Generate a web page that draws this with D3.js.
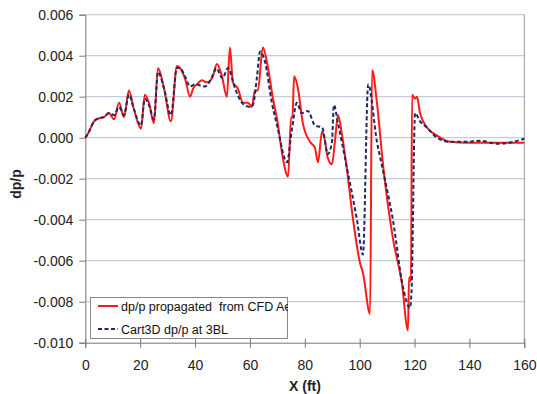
<!DOCTYPE html>
<html><head><meta charset="utf-8">
<script src="https://cdn.jsdelivr.net/npm/d3@7"></script>
<style>body{margin:0;background:#fff;}svg{display:block;font-family:"Liberation Sans",Arial,sans-serif;}</style>
</head><body><svg id="c" width="537" height="394"></svg>
<script>
const xTicks = [0,20,40,60,80,100,120,140,160];
const yTicks = [0.006,0.004,0.002,0.000,-0.002,-0.004,-0.006,-0.008,-0.010];
const seriesNames = ["dp/p propagated  from CFD Ae", "Cart3D dp/p at 3BL"];
const redX = [0,1.0,3.2,5.0,6.8,8.6,10.5,12.3,14.1,15.9,17.7,20.3,21.7,23.2,25.0,26.5,28.7,31.2,33.4,34.5,36.3,38.2,39.3,40.7,42.5,44.3,46.2,48.0,49.8,51.6,52.7,53.8,55.6,57.5,59.3,60.7,61.8,62.9,64.7,66.6,68.4,69.9,72.0,73.9,75.0,75.5,76.1,77.5,79.3,81.9,83.7,84.8,86.3,87.4,88.4,89.9,91.0,92.1,93.5,95.4,97.6,100.1,101.2,103.8,104.5,106.3,108.5,112.1,115.4,117.6,118.0,118.7,119.1,120.2,120.9,122.0,124.5,128.2,132.9,139.1,151.1,160];
const redY = [0,0.0002,0.0008,0.00095,0.001,0.0012,0.0009,0.0017,0.001,0.0023,0.0014,0.00044,0.0021,0.0017,0.0007,0.0034,0.0024,0.0008,0.0035,0.0034,0.0029,0.002,0.0024,0.0026,0.0028,0.0027,0.0029,0.0036,0.003,0.002,0.0044,0.0027,0.0024,0.0017,0.0017,0.0015,0.0023,0.0023,0.0044,0.0034,0.0019,0.0009,-0.001,-0.0019,0.001,0.001,0.003,0.0024,0.0007,-0.0002,-0.0005,-0.0012,0.0003,-0.0002,-0.001,-0.0013,-0.00015,0.0011,0.0002,-0.0016,-0.004,-0.0061,-0.0066,-0.0086,0.0033,0.0017,-0.0013,-0.0049,-0.0071,-0.0094,-0.0068,-0.007,0.0021,0.0019,0.002,0.0012,0.0005,0.0001,-0.0002,-0.00025,-0.00025,-0.00025];
const blueX = [0,1.0,3.2,5.0,6.8,8.6,10.5,12.3,14.1,15.9,17.7,20.3,21.7,23.2,25.0,26.5,28.7,31.2,33.4,34.5,36.3,38.2,40.0,43.6,47.0,47.7,50.0,52.0,54.6,57.1,60.0,61.1,62.6,63.7,65.5,68.0,69.9,73.5,75.3,77.1,78.9,81.1,83.7,86.3,88.4,89.9,90.6,92.1,95.4,99.0,101.2,103.1,106.3,108.5,112.1,115.8,118.3,118.9,120.2,122.0,124.5,128.2,132.9,139.1,144.0,150.2,156.0,160];
const blueY = [0,0.0002,0.0008,0.00095,0.001,0.0012,0.0011,0.0015,0.0011,0.0021,0.0014,0.0006,0.0019,0.0016,0.0009,0.0032,0.0024,0.0011,0.0034,0.0034,0.003,0.0025,0.0026,0.0025,0.0032,0.0034,0.0029,0.0034,0.0024,0.0017,0.0015,0.0016,0.003,0.0042,0.0037,0.0017,0.0006,-0.0012,0.0004,0.0017,0.0012,0.0013,0.0006,0.0005,-0.0008,-0.0002,0.0016,0.0007,-0.0015,-0.004,-0.0057,0.0026,-0.0002,-0.0016,-0.004,-0.0073,-0.0083,-0.0075,0.0012,0.0008,0.0005,0,-0.0002,-0.0002,-0.00015,-0.0003,-0.0002,-0.00005];

const svg = d3.select("#c");
const x = d3.scaleLinear().domain([0,160]).range([85.3,524.3]);
const y = d3.scaleLinear().domain([-0.010,0.006]).range([342.7,14.7]);

// gridlines
svg.append("g").selectAll("line").data(yTicks.filter(v=>v>-0.0099)).join("line")
  .attr("x1",x(0)).attr("x2",x(160)).attr("y1",d=>y(d)).attr("y2",d=>y(d))
  .attr("stroke","#b4c3d6").attr("stroke-width",1);
// right border
svg.append("line").attr("x1",x(160)).attr("x2",x(160)).attr("y1",y(0.006)).attr("y2",y(-0.010))
  .attr("stroke","#9a9a9a").attr("stroke-width",1);

const yAxis = d3.axisLeft(y).tickValues(yTicks).tickFormat(d3.format(".3f")).tickSize(6).tickPadding(6);
const gy = svg.append("g").attr("transform",`translate(${x(0)},0)`).call(yAxis);
gy.selectAll("text").attr("font-size",14).attr("fill","#222").text(d=>d3.format(".3f")(d).replace("−","-"));
gy.select(".domain").attr("stroke","#777");
gy.selectAll(".tick line").attr("stroke","#777");

const xAxis = d3.axisBottom(x).tickValues(xTicks).tickSize(5).tickPadding(12);
const gx = svg.append("g").attr("transform",`translate(0,${y(-0.010)})`).call(xAxis);
gx.selectAll("text").attr("font-size",14).attr("fill","#222");
gx.select(".domain").attr("stroke","#777");
gx.selectAll(".tick line").attr("stroke","#777").attr("y1",-4);

svg.append("text").attr("x",305).attr("y",391).attr("text-anchor","middle")
  .attr("font-size",14).attr("font-weight","bold").attr("fill","#222").text("X (ft)");
svg.append("text").attr("transform","translate(21,184) rotate(-90)").attr("text-anchor","middle")
  .attr("font-size",14).attr("font-weight","bold").attr("fill","#222").text("dp/p");

const line = d3.line().x(d=>x(d[0])).y(d=>y(d[1])).curve(d3.curveMonotoneX);
const red = redX.map((v,i)=>[v,redY[i]]);
const blue = blueX.map((v,i)=>[v,blueY[i]]);
svg.append("path").datum(red).attr("d",line).attr("fill","none").attr("stroke","#ff1a1a").attr("stroke-width",2);
svg.append("path").datum(blue).attr("d",line).attr("fill","none").attr("stroke","#1c2a5e").attr("stroke-width",2).attr("stroke-dasharray","4,2.5");

// legend
const lg = svg.append("g");
svg.append("clipPath").attr("id","lgclip").append("rect").attr("x",90).attr("y",297).attr("width",198).attr("height",42);
lg.append("rect").attr("x",90.5).attr("y",297.5).attr("width",197).attr("height",41)
  .attr("fill","#fff").attr("stroke","#888");
const lgi = lg.append("g").attr("clip-path","url(#lgclip)");
lgi.append("line").attr("x1",98).attr("x2",118).attr("y1",306).attr("y2",306).attr("stroke","#ff1a1a").attr("stroke-width",2);
lgi.append("line").attr("x1",98).attr("x2",118).attr("y1",329).attr("y2",329).attr("stroke","#1c2a5e").attr("stroke-width",2).attr("stroke-dasharray","4,2.5");
lgi.append("text").attr("x",121).attr("y",310.5).attr("font-size",12.5).attr("fill","#111").style("white-space","pre").text(seriesNames[0]);
lgi.append("text").attr("x",121).attr("y",333.5).attr("font-size",12.5).attr("fill","#111").text(seriesNames[1]);
</script></body></html>
